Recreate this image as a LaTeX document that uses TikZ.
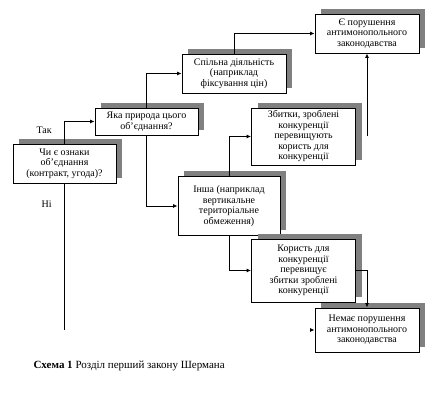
\documentclass[tikz,border=0pt]{standalone}
\usepackage{fontspec}
\setmainfont{Liberation Serif}
\usepackage{tikz}
\usetikzlibrary{arrows.meta, positioning, calc, shadows}

\begin{document}
\begin{tikzpicture}[
  x=1pt, y=-1pt,
  box/.style={rectangle, draw, line width=0.9pt, fill=white, align=center,
    font=\fontsize{10}{10.5}\selectfont, inner sep=1pt,
    drop shadow={shadow xshift=6pt, shadow yshift=5pt, fill=black!50, opacity=1}},
  conn/.style={-{Latex[length=4.5pt,width=4pt]}, line width=0.9pt},
  lbl/.style={font=\fontsize{10}{11}\selectfont}
]
  \useasboundingbox (0,0) rectangle (440,411);

  \node[box, minimum width=103pt, minimum height=39pt] (signs) at (64.5,163.5) {Чи є ознаки\\об'єднання\\(контракт, угода)?};
  \node[box, minimum width=103pt, minimum height=27pt] (nature) at (146.5,121.5) {Яка природа цього\\об'єднання?};
  \node[box, minimum width=104pt, minimum height=39pt] (joint) at (234,73.5) {Спільна діяльність\\(наприклад\\фіксування цін)};
  \node[box, minimum width=104pt, minimum height=39pt] (breach) at (367,33.5) {Є порушення\\антимонопольного\\законодавства};
  \node[box, minimum width=104pt, minimum height=57pt] (harm) at (303.5,136.5) {Збитки, зроблені\\конкуренції\\перевищують\\користь для\\конкуренції};
  \node[box, minimum width=102pt, minimum height=59pt] (other) at (229,206) {Інша (наприклад\\вертикальне\\територіальне\\обмеження)};
  \node[box, minimum width=104pt, minimum height=63pt] (gain) at (303.5,270.5) {Користь для\\конкуренції\\перевищує\\збитки зроблені\\конкуренції};
  \node[box, minimum width=104pt, minimum height=44pt] (nobreach) at (367,330) {Немає порушення\\антимонопольного\\законодавства};

  \node[anchor=west, font=\fontsize{11}{12}\selectfont] (caption) at (30,366) {\textbf{Схема 1} Розділ перший закону Шермана};

  % loose ends
  \coordinate (noend) at (signs.south |- nobreach.west);
  \coordinate (notip) at ($(nobreach.west)+(-5,0)$);
  \coordinate (gap) at (breach.south |- harm.west);

  \draw[conn] (signs.north) |- node[lbl, pos=0.3, left=9pt] {Так} (nature.west);
  \draw[line width=0.9pt] (signs.south) -- node[lbl, pos=0.14, left=9pt] {Ні} (noend);
  \draw[conn] (notip) -- (nobreach.west);
  \draw[conn] (nature.north) |- (joint.west);
  \draw[conn] (nature.south) |- (other.west);
  \draw[conn] (joint.north) |- (breach.west);
  \draw[conn] (other.north) |- (harm.west);
  \draw[conn] (other.south) |- (gain.west);
  \draw[conn] (gain.east) -| (nobreach.north);
  \draw[conn] (gap) -- (breach.south);
\end{tikzpicture}
\end{document}
